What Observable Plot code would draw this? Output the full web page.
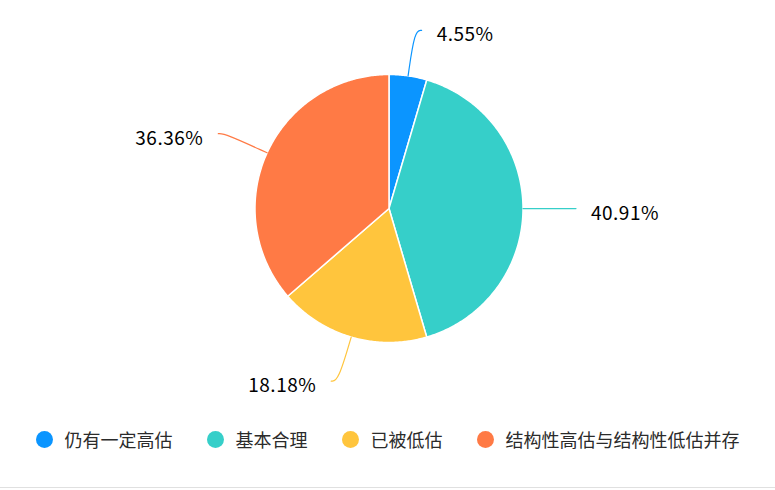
<!DOCTYPE html>
<html><head><meta charset="utf-8">
<script src="https://cdn.jsdelivr.net/npm/d3@7"></script>
<script src="https://cdn.jsdelivr.net/npm/@observablehq/plot@0.6"></script>
<style>
body{margin:0;background:#fff;font-family:"Noto Sans CJK SC","Noto Sans",sans-serif;}
#wrap{width:775px;height:487px;border-bottom:1px solid #e0e0e0;position:relative;overflow:hidden}
#chart svg{display:block}
#chart svg text{letter-spacing:0.5px}
#legend{position:absolute;top:428px;left:0;width:775px;display:flex;justify-content:center;font-size:18px;color:#2b2b2b;line-height:22px}
.item{display:flex;align-items:center;margin:0 17px}
.sw{width:17px;height:17px;border-radius:50%;margin-right:12px;flex:none}
</style></head><body>
<div id="wrap"><div id="chart"></div><div id="legend"></div></div>
<script>
const categories = ["仍有一定高估", "基本合理", "已被低估", "结构性高估与结构性低估并存"];
const percents = [4.55, 40.91, 18.18, 36.36];
const labels = ["4.55%", "40.91%", "18.18%", "36.36%"];
const colors = ["#0b95ff", "#36cfc9", "#ffc53d", "#ff7a45"];

const W = 775, H = 420;
const cx = 388.5, cy = 208, R = 134;
const L1 = 46, L2 = 7, gap = 15;

const arcs = d3.pie().sort(null).value(d => d.v)(categories.map((c, i) => ({c, v: percents[i], lab: labels[i]})));
const pt = (a, r) => ({x: cx + r * Math.sin(a), y: cy - r * Math.cos(a)});

const slicePts = [];
const leaderPts = [];
const labelPts = [];
arcs.forEach(a => {
  const key = a.data.c;
  slicePts.push({key, ...pt(0, 0)});
  const n = Math.max(2, Math.ceil((a.endAngle - a.startAngle) / 0.01));
  for (let k = 0; k <= n; k++) {
    const t = a.startAngle + (a.endAngle - a.startAngle) * k / n;
    slicePts.push({key, ...pt(t, R)});
  }
  slicePts.push({key, ...pt(0, 0)});
  const m = (a.startAngle + a.endAngle) / 2;
  const p0 = pt(m, R), p1 = pt(m, R + L1);
  const right = Math.sin(m) >= 0;
  const p2 = {x: p1.x + (right ? L2 : -L2), y: p1.y};
  leaderPts.push({key, ...p0}, {key, ...p1}, {key, ...p2});
  labelPts.push({key, x: p2.x + (right ? gap : -gap), y: p2.y, text: a.data.lab, right});
});

const chart = Plot.plot({
  width: W, height: H,
  marginTop: 0, marginRight: 0, marginBottom: 0, marginLeft: 0,
  x: {domain: [0, W], range: [0, W], axis: null},
  y: {domain: [0, H], range: [0, H], axis: null},
  color: {domain: categories, range: colors},
  marks: [
    Plot.line(slicePts, {x: "x", y: "y", z: "key", fill: "key", stroke: "white", strokeWidth: 1.5, curve: "linear"}),
    Plot.line(leaderPts, {x: "x", y: "y", z: "key", stroke: "key", strokeWidth: 1.2, curve: "basis"}),
    Plot.text(labelPts.filter(d => d.right), {x: "x", y: "y", text: "text", textAnchor: "start", fontSize: 19, fill: "#000", dy: 5}),
    Plot.text(labelPts.filter(d => !d.right), {x: "x", y: "y", text: "text", textAnchor: "end", fontSize: 19, fill: "#000", dy: 5})
  ]
});
chart.style.fontFamily = '"Noto Sans CJK SC", "Noto Sans", sans-serif';
document.getElementById("chart").appendChild(chart);

const legend = document.getElementById("legend");
categories.forEach((c, i) => {
  const it = document.createElement("div");
  it.className = "item";
  it.innerHTML = `<span class="sw" style="background:${colors[i]}"></span><span>${c}</span>`;
  legend.appendChild(it);
});
</script>
</body></html>
